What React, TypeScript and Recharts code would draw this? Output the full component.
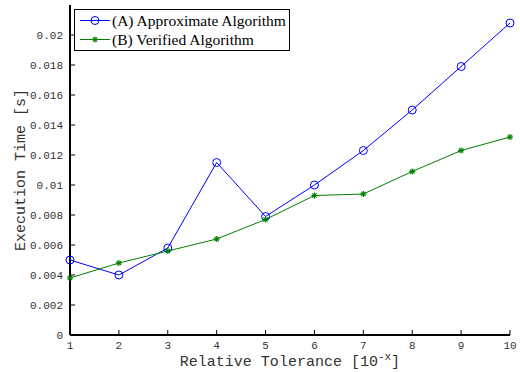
import { LineChart, Line, XAxis, YAxis, Legend } from "recharts";

const tolerances = [1, 2, 3, 4, 5, 6, 7, 8, 9, 10];
const approxTimes = [0.005, 0.004, 0.0058, 0.0115, 0.0079, 0.01, 0.0123, 0.015, 0.0179, 0.0208];
const verifiedTimes = [0.0038, 0.0048, 0.0056, 0.0064, 0.0077, 0.0093, 0.0094, 0.0109, 0.0123, 0.0132];
const yTicks = [0, 0.002, 0.004, 0.006, 0.008, 0.01, 0.012, 0.014, 0.016, 0.018, 0.02];
const seriesNames = ["(A) Approximate Algorithm", "(B) Verified Algorithm"];

const data = tolerances.map((x, i) => ({
	x,
	approx: approxTimes[i],
	verified: verifiedTimes[i],
}));

const BLUE = "#0000ff";
const GREEN = "#008000";
const MONO = "'Liberation Mono', 'DejaVu Sans Mono', monospace";
const SERIF = "'Liberation Serif', 'Times New Roman', serif";
const M = 6; // tick margin
const TICK = 5; // inward tick length

const fmtY = (v: number) => String(Number(v.toFixed(3)));

function LeftTick({ x, y, payload }: any) {
	return (
		<g>
			<line x1={x + M} x2={x + M + TICK} y1={y} y2={y} stroke="#000" />
			<text x={x - 1} y={y} dy={4} textAnchor="end" fontFamily={MONO} fontSize={11} fill="#333">
				{fmtY(payload.value)}
			</text>
		</g>
	);
}

function BottomTick({ x, y, payload }: any) {
	return (
		<g>
			<line x1={x} x2={x} y1={y - M} y2={y - M - TICK} stroke="#000" />
			<text x={x} y={y} dy={8} textAnchor="middle" fontFamily={MONO} fontSize={11} fill="#333">
				{payload.value}
			</text>
		</g>
	);
}

function TopTick({ x, y }: any) {
	return <line x1={x} x2={x} y1={y + M} y2={y + M + TICK} stroke="#000" />;
}

function RightTick({ x, y }: any) {
	return <line x1={x - M} x2={x - M - TICK} y1={y} y2={y} stroke="#000" />;
}

function CircleDot({ cx, cy }: any) {
	return <circle cx={cx} cy={cy} r={4} fill="none" stroke={BLUE} strokeWidth={1} />;
}

function StarDot({ cx, cy }: any) {
	const r = 3;
	const d = 2.2;
	return (
		<g stroke={GREEN} strokeWidth={1.2}>
			<line x1={cx - r} x2={cx + r} y1={cy} y2={cy} />
			<line x1={cx} x2={cx} y1={cy - r} y2={cy + r} />
			<line x1={cx - d} x2={cx + d} y1={cy - d} y2={cy + d} />
			<line x1={cx - d} x2={cx + d} y1={cy + d} y2={cy - d} />
		</g>
	);
}

function LegendBox() {
	const rows = [
		{ name: seriesNames[0], color: BLUE, Dot: CircleDot },
		{ name: seriesNames[1], color: GREEN, Dot: StarDot },
	];
	return (
		<div
			style={{
				border: "1px solid #000",
				background: "#fff",
				padding: "1px 3px 1px 3px",
				width: 208,
			}}
		>
			{rows.map(({ name, color, Dot }) => (
				<div key={name} style={{ display: "flex", alignItems: "center", height: 19 }}>
					<svg width={34} height={19} style={{ flex: "none" }}>
						<line x1={2} x2={32} y1={9.5} y2={9.5} stroke={color} />
						<Dot cx={17} cy={9.5} />
					</svg>
					<span style={{ fontFamily: SERIF, fontSize: 15.5, color: "#000", whiteSpace: "nowrap" }}>{name}</span>
				</div>
			))}
		</div>
	);
}

function YLabel({ viewBox }: any) {
	const cx = viewBox.x + 25;
	const cy = viewBox.y + viewBox.height / 2;
	return (
		<text
			x={cx}
			y={cy}
			transform={`rotate(-90, ${cx}, ${cy})`}
			textAnchor="middle"
			fontFamily={MONO}
			fontSize={15}
			fill="#333"
		>
			Execution Time [s]
		</text>
	);
}

function XLabel({ viewBox }: any) {
	const cx = viewBox.x + viewBox.width / 2;
	return (
		<text x={cx} y={366} textAnchor="middle" fontFamily={MONO} fontSize={15} fill="#333">
			Relative Tolerance [10
			<tspan dy={-6} fontSize={11}>-x</tspan>
			<tspan dy={6}>]</tspan>
		</text>
	);
}

export default function App() {
	return (
		<div style={{ position: "absolute", left: 0, top: 0, width: 520, height: 372, background: "#fff" }}>
			<LineChart width={520} height={372} data={data} margin={{ top: 5, right: 10, left: 0, bottom: 0 }}>
				<XAxis
					dataKey="x"
					type="number"
					domain={[1, 10]}
					ticks={tolerances}
					height={37}
					tickSize={0}
					tickMargin={M}
					tick={<BottomTick />}
					axisLine={{ stroke: "#000", strokeWidth: 2 }}
					label={<XLabel />}
				/>
				<XAxis
					xAxisId="top"
					orientation="top"
					dataKey="x"
					type="number"
					domain={[1, 10]}
					ticks={tolerances}
					height={0}
					tickSize={0}
					tickMargin={M}
					tick={<TopTick />}
					axisLine={{ stroke: "#000", strokeWidth: 1.5 }}
				/>
				<YAxis
					type="number"
					domain={[0, 0.022]}
					ticks={yTicks}
					width={70}
					tickSize={0}
					tickMargin={M}
					tick={<LeftTick />}
					axisLine={{ stroke: "#000", strokeWidth: 2 }}
					label={<YLabel />}
				/>
				<YAxis
					yAxisId="right"
					orientation="right"
					type="number"
					domain={[0, 0.022]}
					ticks={yTicks}
					width={0}
					tickSize={0}
					tickMargin={M}
					tick={<RightTick />}
					axisLine={{ stroke: "#000", strokeWidth: 1.5 }}
				/>
				<Legend
					layout="vertical"
					align="center"
					verticalAlign="middle"
					content={<LegendBox />}
					wrapperStyle={{ left: 74, top: 9, width: "auto" }}
				/>
				<Line
					dataKey="approx"
					stroke={BLUE}
					strokeWidth={1}
					dot={<CircleDot />}
					activeDot={false}
					isAnimationActive={false}
				/>
				<Line
					dataKey="verified"
					stroke={GREEN}
					strokeWidth={1}
					dot={<StarDot />}
					activeDot={false}
					isAnimationActive={false}
				/>
			</LineChart>
		</div>
	);
}
